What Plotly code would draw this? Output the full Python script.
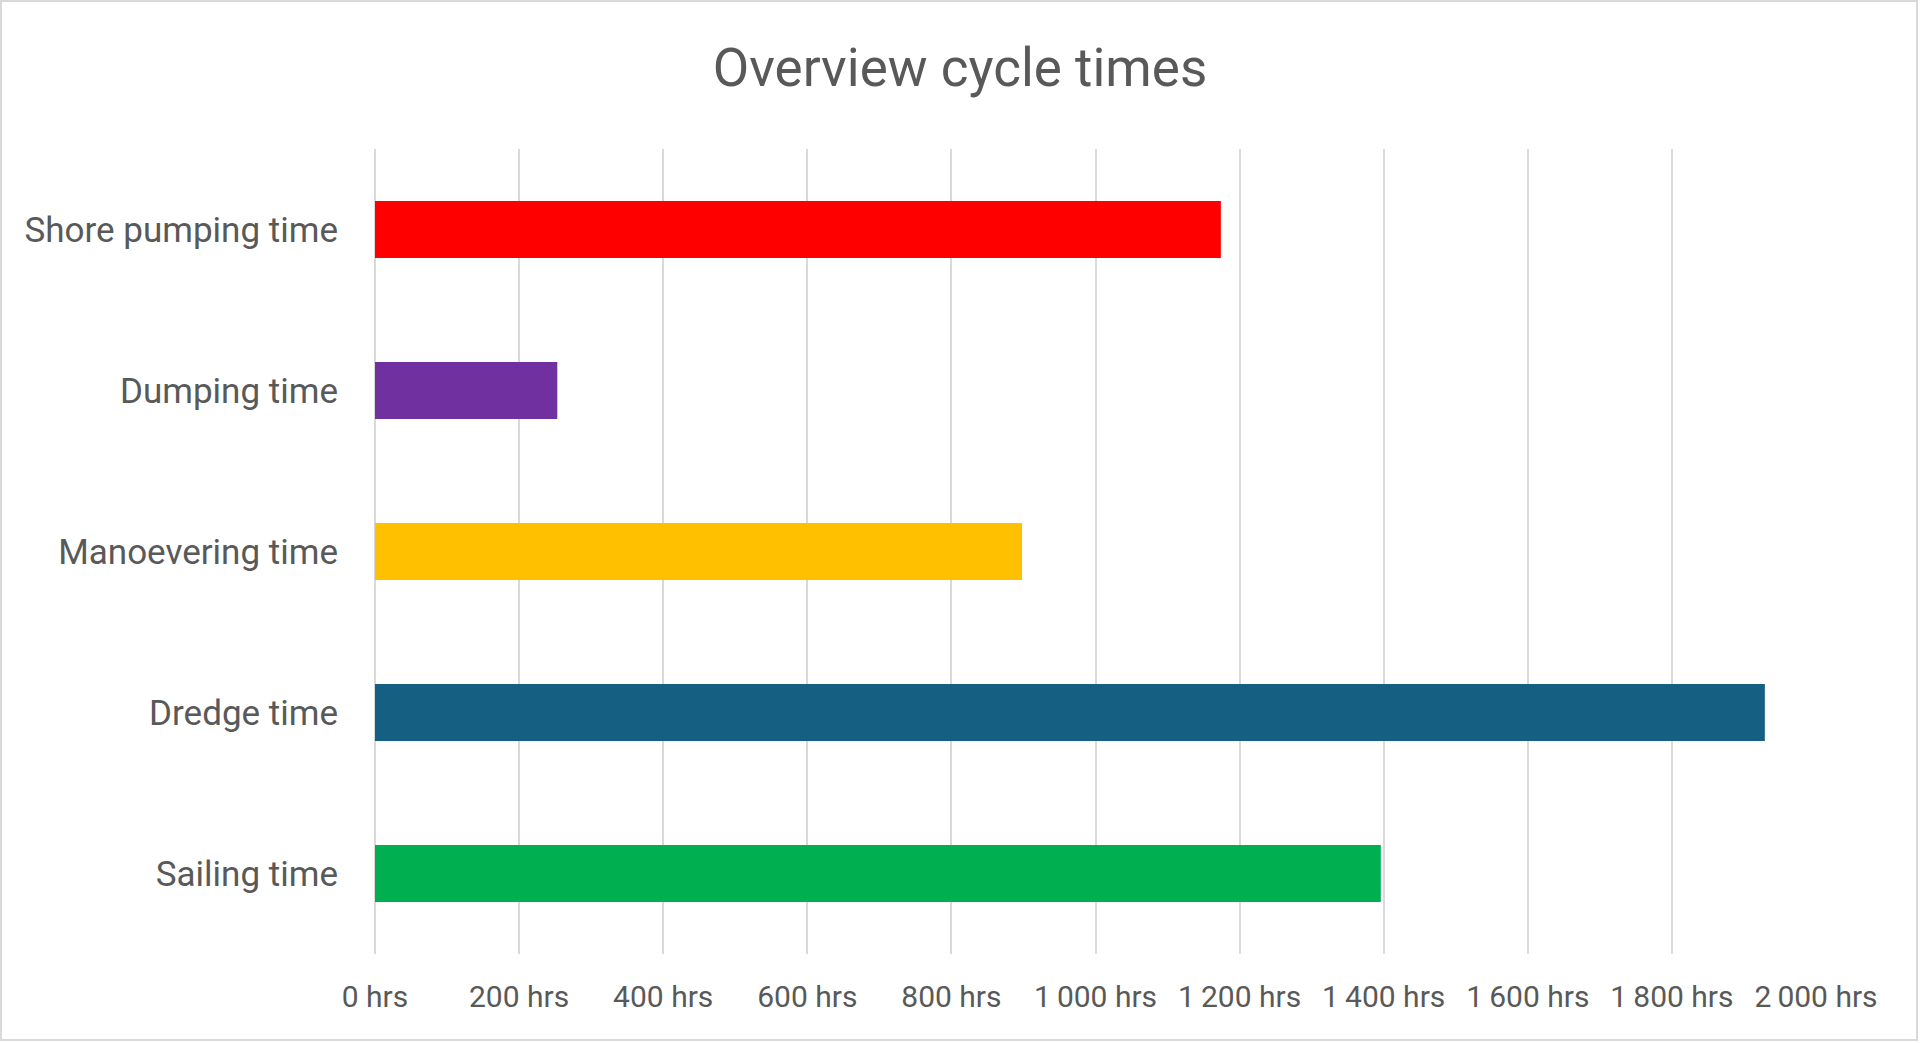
import plotly.graph_objects as go

# Data (top to bottom as displayed)
categories = ["Shore pumping time", "Dumping time", "Manoevering time", "Dredge time", "Sailing time"]
hours = [1174, 253, 898, 1929, 1396]
bar_colors = ["#FF0000", "#7030A0", "#FFC000", "#156082", "#00B050"]

tick_values = [0, 200, 400, 600, 800, 1000, 1200, 1400, 1600, 1800, 2000]
tick_labels = ["0 hrs", "200 hrs", "400 hrs", "600 hrs", "800 hrs", "1\u2009000 hrs",
               "1\u2009200 hrs", "1\u2009400 hrs", "1\u2009600 hrs", "1\u2009800 hrs", "2\u2009000 hrs"]

W, H = 1920, 1043
ML, MR, MT, MB = 375, 104, 149, 89
FONT = "Roboto, Open Sans, sans-serif"
TEXT = "#595959"
GRID = "#d9d9d9"

fig = go.Figure(
    go.Bar(
        x=hours,
        y=categories,
        orientation="h",
        marker=dict(color=bar_colors, line=dict(width=0)),
        hoverinfo="x+y",
    )
)

pw = W - ML - MR
ph = H - MT - MB

fig.update_layout(
    width=W,
    height=H,
    margin=dict(l=ML, r=MR, t=MT, b=MB, pad=0),
    paper_bgcolor="white",
    plot_bgcolor="white",
    showlegend=False,
    bargap=0.646,
    font=dict(family=FONT, color=TEXT),
    title=dict(
        text="Overview cycle times",
        x=0.5,
        xanchor="center",
        xref="container",
        y=1 - 67 / H,
        yref="container",
        yanchor="middle",
        font=dict(size=53, color=TEXT, family=FONT),
    ),
    xaxis=dict(
        range=[0, 2000],
        tickvals=tick_values,
        ticktext=tick_labels,
        showgrid=True,
        gridcolor=GRID,
        gridwidth=2,
        zeroline=True,
        zerolinecolor=GRID,
        zerolinewidth=2,
        showline=False,
        ticks="",
        tickfont=dict(size=30, color=TEXT, family=FONT),
        ticklabelstandoff=22,
        fixedrange=True,
    ),
    yaxis=dict(
        autorange="reversed",
        showgrid=False,
        zeroline=False,
        showline=False,
        ticks="",
        tickfont=dict(size=35, color=TEXT, family=FONT),
        ticklabelstandoff=36,
        fixedrange=True,
    ),
    shapes=[
        dict(
            type="rect",
            xref="paper",
            yref="paper",
            x0=(1 - ML) / pw,
            x1=(W - 3 - ML) / pw,
            y0=-(MB - 3) / ph,
            y1=1 + (MT - 1) / ph,
            line=dict(color=GRID, width=2),
            fillcolor="rgba(0,0,0,0)",
            layer="below",
        )
    ],
)

fig.write_html("out.html")
